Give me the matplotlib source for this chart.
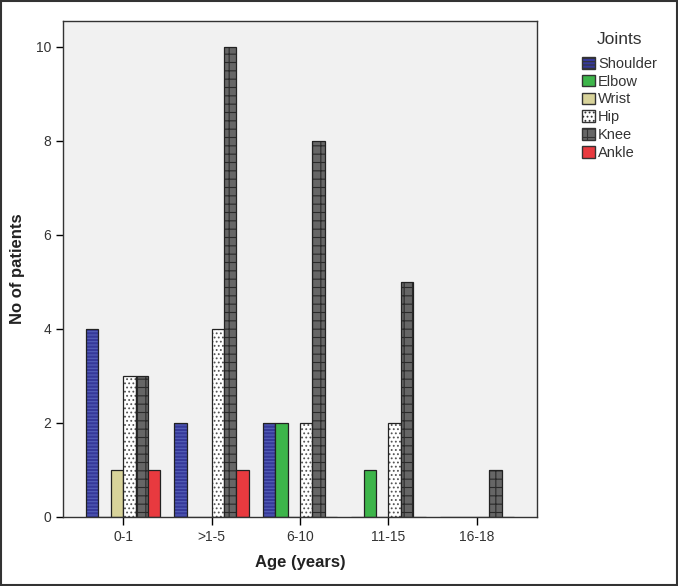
import matplotlib.pyplot as plt
import matplotlib.patches as mpatches
import numpy as np

plt.rcParams['font.family'] = ['Liberation Sans', 'DejaVu Sans']
plt.rcParams['hatch.linewidth'] = 0.8

ages = ["0-1", ">1-5", "6-10", "11-15", "16-18"]
joints = ["Shoulder", "Elbow", "Wrist", "Hip", "Knee", "Ankle"]

shoulder = [4, 2, 2, 0, 0]
elbow = [0, 0, 2, 1, 0]
wrist = [1, 0, 0, 0, 0]
hip = [3, 4, 2, 2, 0]
knee = [3, 10, 8, 5, 1]
ankle = [1, 1, 0, 0, 0]

series = [shoulder, elbow, wrist, hip, knee, ankle]
fills = ["#36399a", "#3db54a", "#d8d39a", "#ffffff", "#666666", "#e83a3f"]
hatches = ["-----", None, None, "....", "++", None]
hatch_cols = ["#5560b8", None, None, "#555555", "#2a2a2a", None]

fig = plt.figure(figsize=(6.78, 5.86), dpi=100)
ax = fig.add_axes([0.093, 0.118, 0.699, 0.846])
ax.set_facecolor("#f1f1f1")

x = np.arange(len(ages))
w = 0.14
for i, vals in enumerate(series):
    pos = x + (i - 2.5) * w
    if hatches[i]:
        ax.bar(pos, vals, w, color=fills[i], hatch=hatches[i],
               edgecolor=hatch_cols[i], linewidth=0)
        ax.bar(pos, vals, w, fill=False, edgecolor="#222222", linewidth=0.9)
    else:
        ax.bar(pos, vals, w, color=fills[i], edgecolor="#222222", linewidth=0.9)

ax.set_xlim(-0.68, 4.68)
ax.set_ylim(0, 10.55)
ax.set_xticks(x)
ax.set_xticklabels(ages, fontsize=10, color="#333333")
ax.set_yticks([0, 2, 4, 6, 8, 10])
ax.tick_params(axis="y", labelsize=10, labelcolor="#333333", length=5, width=1)
ax.tick_params(axis="x", length=6, width=1)
for s in ax.spines.values():
    s.set_color("#333333")
    s.set_linewidth(1)

ax.set_xlabel("Age (years)", fontsize=12, fontweight="bold", color="#222222", labelpad=8)
ax.set_ylabel("No of patients", fontsize=12, fontweight="bold", color="#222222", labelpad=8)

handles = []
for i, name in enumerate(joints):
    handles.append(mpatches.Patch(facecolor=fills[i], edgecolor="#333333",
                                  hatch=hatches[i], label=name))
leg = fig.legend(handles=handles, title="Joints", loc="upper left",
                 bbox_to_anchor=(569 / 678, 1 - 19 / 586), frameon=False,
                 fontsize=10.5, title_fontsize=12.5, handlelength=0.85,
                 handleheight=0.85, handletextpad=0.25, labelspacing=0.26)
leg.get_title().set_color("#333333")
leg._legend_box.sep = 7
for t in leg.get_texts():
    t.set_color("#333333")

fig.patches.append(mpatches.Rectangle((0.002, 0.002), 0.996, 0.996,
                                      transform=fig.transFigure, fill=False,
                                      edgecolor="#333333", linewidth=1.5))

fig.savefig("out.png", dpi=100)
